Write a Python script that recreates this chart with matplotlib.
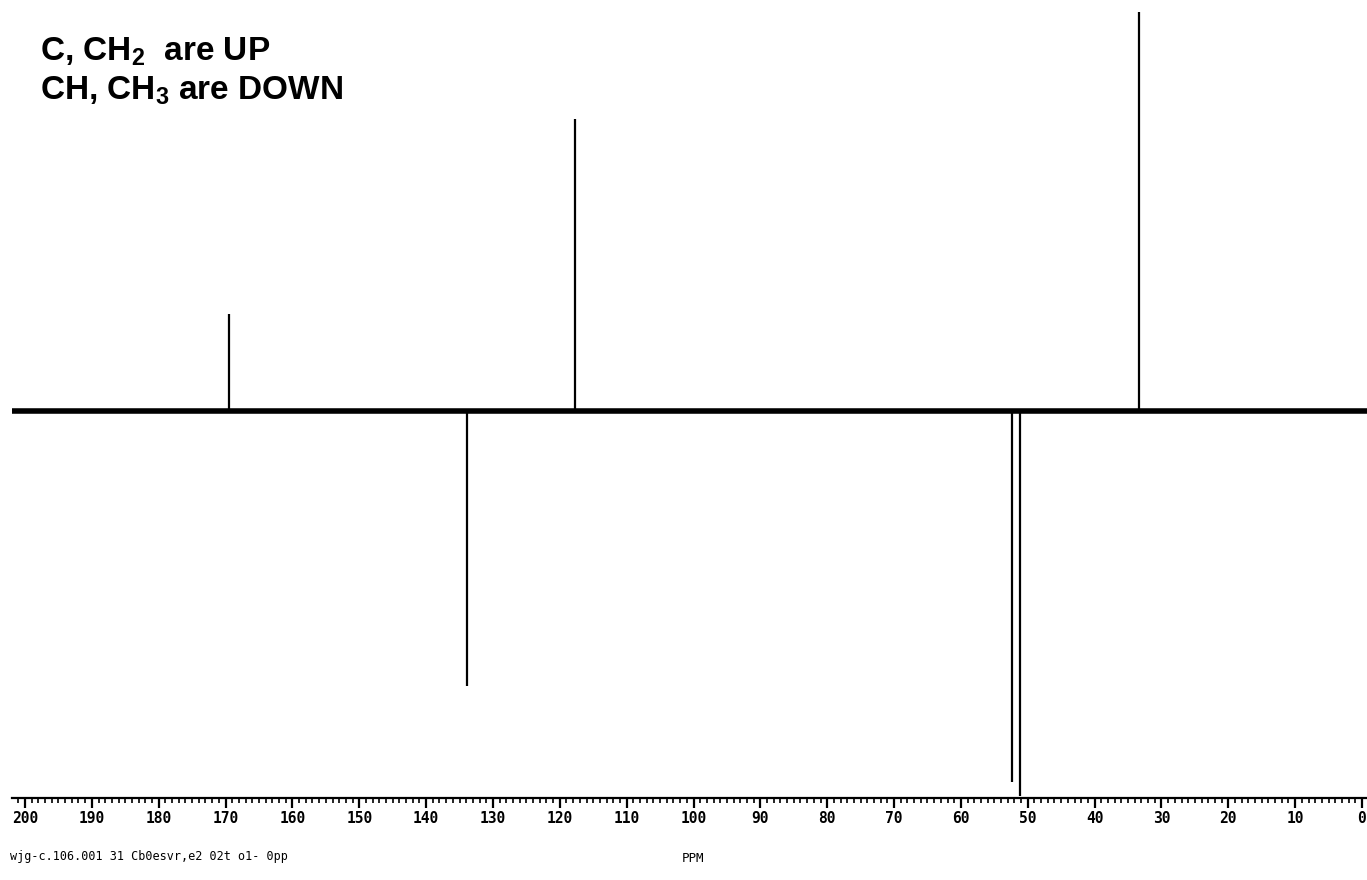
import matplotlib
matplotlib.use("Agg")
import matplotlib.pyplot as plt
from matplotlib.ticker import MultipleLocator

# Peak data (ppm, relative intensity; + = C/CH2, - = CH/CH3)
peak_ppm = [169.5, 133.9, 117.7, 52.4, 51.2, 33.4]
peak_int = [97, -275, 292, -371, -385, 399]

tick_values = list(range(0, 201, 10))
tick_labels = [str(v) for v in tick_values]

W, H = 1367, 880
fig = plt.figure(figsize=(W / 100, H / 100), dpi=100)
plt.rcParams['mathtext.fontset'] = 'custom'
plt.rcParams['mathtext.rm'] = 'Liberation Sans:bold'
plt.rcParams['mathtext.it'] = 'Liberation Sans:bold'
plt.rcParams['mathtext.bf'] = 'Liberation Sans:bold'

left_px, right_px = 12, 1367
bottom_px = 798
ax = fig.add_axes([left_px / W, (H - bottom_px) / H, (right_px - left_px) / W, bottom_px / H])

ppm_per_px = 200 / (1362 - 25)
ax.set_xlim(200 + (25 - left_px) * ppm_per_px, 0 - (right_px - 1362) * ppm_per_px)
ax.set_ylim(-387, 411)

# baseline
ax.axhline(0, color='black', lw=4.0, zorder=2)
# peaks
ax.vlines(peak_ppm, 0, peak_int, color='black', lw=1.6, zorder=3)

for s in ['top', 'right', 'left']:
    ax.spines[s].set_visible(False)
ax.spines['bottom'].set_linewidth(1.6)
ax.set_yticks([])
ax.set_xticks(tick_values)
ax.set_xticklabels(tick_labels, family='DejaVu Sans Mono', fontsize=10.5, fontweight='bold')
ax.xaxis.set_minor_locator(MultipleLocator(1))
ax.tick_params(axis='x', which='major', length=7, width=1.6, direction='out', pad=2)
ax.tick_params(axis='x', which='minor', length=3.5, width=1.2, direction='out')

fig.text(40 / W, 1 - 61 / H, "C, CH$_2$  are UP", fontsize=24, fontweight='bold',
         family='Liberation Sans', va='baseline', ha='left')
fig.text(40 / W, 1 - 100 / H, "CH, CH$_3$ are DOWN", fontsize=24, fontweight='bold',
         family='Liberation Sans', va='baseline', ha='left')

fig.text(10 / W, 1 - 860 / H, "wjg-c.106.001 31 Cb0esvr,e2 02t o1- 0pp",
         family='DejaVu Sans Mono', fontsize=8.5, ha='left', va='baseline')
fig.text(693 / W, 1 - 862 / H, "PPM", family='DejaVu Sans Mono', fontsize=9,
         ha='center', va='baseline')

fig.savefig("out.png", dpi=100, facecolor='white')
